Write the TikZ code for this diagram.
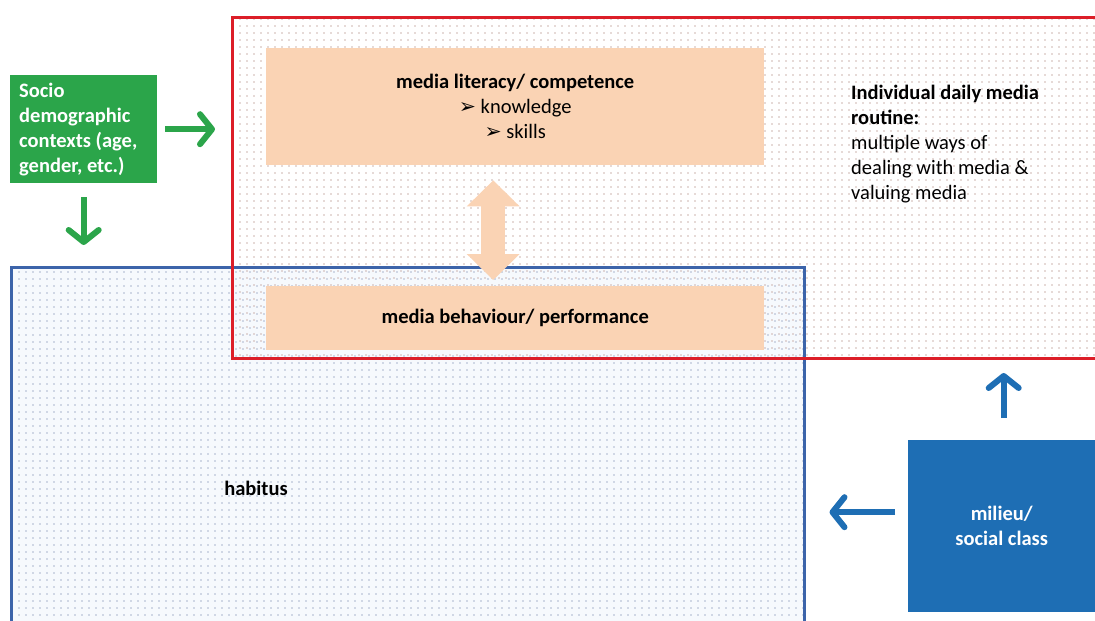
\documentclass[tikz,border=0pt]{standalone}
\usepackage{fontspec}
\setmainfont{Carlito}
\newfontfamily\symfont[Scale=1.0]{DejaVu Sans}
\usetikzlibrary{arrows.meta,patterns.meta}

\definecolor{peach}{RGB}{250,211,180}
\definecolor{socgreen}{RGB}{43,165,74}
\definecolor{milblue}{RGB}{30,110,180}
\definecolor{frameRed}{RGB}{220,30,40}
\definecolor{frameBlue}{RGB}{60,100,170}
\definecolor{dotRed}{RGB}{205,180,175}
\definecolor{dotBlue}{RGB}{170,182,205}
\definecolor{tintBlue}{RGB}{246,249,253}

\tikzset{
  box/.style={inner sep=0pt, anchor=north west},
  label/.style={font=\bfseries},
  fatarrow/.style={line width=6pt, -{Straight Barb[length=12pt,width=30pt,round]}},
  bothtips/.style={{Triangle[length=26pt,width=53pt,line width=0pt]}-{Triangle[length=26pt,width=53pt,line width=0pt]}},
}

\begin{document}
\fontsize{20.5}{25}\selectfont
\begin{tikzpicture}[x=1pt,y=-1pt]
\useasboundingbox (0,0) rectangle (1095,621);
\clip (0,0) rectangle (1095,621);

% the two frames
\node[box, draw=frameBlue, line width=2.5pt, minimum width=793pt, minimum height=400pt, preaction={fill=tintBlue},
  pattern={Dots[radius=0.9pt,distance=6.5pt]}, pattern color=dotBlue] (habitusframe) at (10,266) {};
\node[box, draw=frameRed, line width=3pt, minimum width=880pt, minimum height=341pt,
  pattern={Dots[radius=0.9pt,distance=6.5pt]}, pattern color=dotRed] (routine) at (231,16) {};

\node[box, fill=peach, minimum width=498pt, minimum height=117pt, align=center] (literacy) at (266,48)
  {\textbf{media literacy/ competence}\\{\symfont ➢}\ knowledge\\{\symfont ➢}\ skills};
\node[box, label, fill=peach, minimum width=498pt, minimum height=64pt] (behaviour) at (266,286)
  {media behaviour/ performance};
\draw[peach, line width=24pt, bothtips] ([xshift=-22pt,yshift=-15pt]literacy.south) -- ([xshift=-22pt,yshift=6pt]behaviour.north);

\node[box, align=left, anchor=north west] (routinetext) at (851,85)
  {\textbf{Individual daily media}\\\textbf{routine:}\\multiple ways of\\dealing with media \&\\valuing media};
\node[label] (habitus) at (256,488) {habitus};

% influences
\node[box, label, fill=socgreen, text=white, minimum width=147pt, minimum height=108pt,
  inner xsep=9pt, text width=129pt, align=flush left] (socio) at (10,75)
  {Socio\\demographic\\contexts (age,\\gender, etc.)};
\draw[fatarrow, socgreen, shorten <=8pt, shorten >=16pt] (socio.east) -- (socio.east -| routine.west);
\draw[fatarrow, socgreen, shorten <=14pt, shorten >=21pt] (socio.south) -- (socio.south |- habitusframe.north);

\node[box, label, fill=milblue, text=white, minimum width=187pt, minimum height=172pt, align=center] (milieu) at (908,440)
  {milieu/\\social class};
\draw[fatarrow, milblue, shorten <=22pt, shorten >=13pt] ([xshift=2pt]milieu.north) -- ([xshift=2pt]milieu.north |- routine.south);
\draw[fatarrow, milblue, shorten <=13pt, shorten >=24pt] ([yshift=14pt]milieu.west) -- ([yshift=14pt]milieu.west -| habitusframe.east);
\end{tikzpicture}
\end{document}
